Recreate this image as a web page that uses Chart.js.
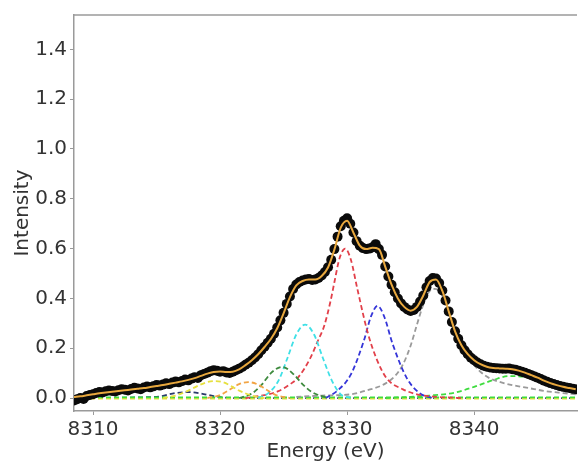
<!DOCTYPE html>
<html>
<head>
<meta charset="utf-8">
<script src="https://cdn.jsdelivr.net/npm/chart.js@4/dist/chart.umd.min.js"></script>
<style>
  html, body { margin: 0; padding: 0; background: #ffffff; }
  #wrap { width: 582px; height: 463px; }
</style>
</head>
<body>
<div id="wrap"><canvas id="c" width="582" height="463"></canvas></div>
<script>
// ---------- axis settings ----------
const xTickValues = [8310, 8320, 8330, 8340];
const yTickValues = [0.0, 0.2, 0.4, 0.6, 0.8, 1.0, 1.2, 1.4];
const xLabel = "Energy (eV)";
const yLabel = "Intensity";

// ---------- measured data (black circles) ----------
const dataEnergy = [
  8308.5, 8308.75, 8309, 8309.25, 8309.5, 8309.75, 8310, 8310.25,
  8310.5, 8310.75, 8311, 8311.25, 8311.5, 8311.75, 8312, 8312.25,
  8312.5, 8312.75, 8313, 8313.25, 8313.5, 8313.75, 8314, 8314.25,
  8314.5, 8314.75, 8315, 8315.25, 8315.5, 8315.75, 8316, 8316.25,
  8316.5, 8316.75, 8317, 8317.25, 8317.5, 8317.75, 8318, 8318.25,
  8318.5, 8318.75, 8319, 8319.25, 8319.5, 8319.75, 8320, 8320.25,
  8320.5, 8320.75, 8321, 8321.25, 8321.5, 8321.75, 8322, 8322.25,
  8322.5, 8322.75, 8323, 8323.25, 8323.5, 8323.75, 8324, 8324.25,
  8324.5, 8324.75, 8325, 8325.25, 8325.5, 8325.75, 8326, 8326.25,
  8326.5, 8326.75, 8327, 8327.25, 8327.5, 8327.75, 8328, 8328.25,
  8328.5, 8328.75, 8329, 8329.25, 8329.5, 8329.75, 8330, 8330.25,
  8330.5, 8330.75, 8331, 8331.25, 8331.5, 8331.75, 8332, 8332.25,
  8332.5, 8332.75, 8333, 8333.25, 8333.5, 8333.75, 8334, 8334.25,
  8334.5, 8334.75, 8335, 8335.25, 8335.5, 8335.75, 8336, 8336.25,
  8336.5, 8336.75, 8337, 8337.25, 8337.5, 8337.75, 8338, 8338.25,
  8338.5, 8338.75, 8339, 8339.25, 8339.5, 8339.75, 8340, 8340.25,
  8340.5, 8340.75, 8341, 8341.25, 8341.5, 8341.75, 8342, 8342.25,
  8342.5, 8342.75, 8343, 8343.25, 8343.5, 8343.75, 8344, 8344.25,
  8344.5, 8344.75, 8345, 8345.25, 8345.5, 8345.75, 8346, 8346.25,
  8346.5, 8346.75, 8347, 8347.25, 8347.5, 8347.75, 8348
];
const dataIntensity = [
  -0.010, -0.005, 0.000, -0.004, 0.008, 0.012, 0.015, 0.020,
  0.024, 0.022, 0.027, 0.030, 0.028, 0.026, 0.031, 0.035,
  0.033, 0.030, 0.036, 0.041, 0.038, 0.035, 0.042, 0.046,
  0.043, 0.047, 0.052, 0.050, 0.054, 0.059, 0.056, 0.062,
  0.066, 0.063, 0.068, 0.074, 0.071, 0.078, 0.084, 0.081,
  0.092, 0.097, 0.102, 0.108, 0.112, 0.110, 0.106, 0.108,
  0.103, 0.101, 0.106, 0.112, 0.118, 0.125, 0.134, 0.142,
  0.152, 0.163, 0.176, 0.192, 0.206, 0.222, 0.238, 0.258,
  0.283, 0.312, 0.342, 0.378, 0.408, 0.438, 0.456, 0.466,
  0.472, 0.476, 0.478, 0.474, 0.476, 0.482, 0.492, 0.506,
  0.525, 0.555, 0.598, 0.648, 0.690, 0.712, 0.722, 0.700,
  0.665, 0.630, 0.612, 0.602, 0.598, 0.600, 0.605, 0.618,
  0.598, 0.575, 0.528, 0.488, 0.455, 0.425, 0.400, 0.380,
  0.366, 0.356, 0.350, 0.354, 0.366, 0.388, 0.412, 0.445,
  0.470, 0.482, 0.480, 0.462, 0.432, 0.392, 0.348, 0.305,
  0.268, 0.238, 0.212, 0.192, 0.176, 0.162, 0.152, 0.143,
  0.136, 0.130, 0.126, 0.123, 0.121, 0.120, 0.119, 0.118,
  0.118, 0.119, 0.116, 0.114, 0.110, 0.106, 0.102, 0.097,
  0.092, 0.087, 0.082, 0.076, 0.070, 0.065, 0.060, 0.056,
  0.052, 0.048, 0.045, 0.042, 0.040, 0.037, 0.035
];

// ---------- total fit (orange line) ----------
const fitEnergy = [
  8308.5, 8309, 8309.5, 8310, 8310.5, 8311, 8311.5, 8312,
  8312.5, 8313, 8313.5, 8314, 8314.5, 8315, 8315.5, 8316,
  8316.5, 8317, 8317.5, 8318, 8318.5, 8319, 8319.5, 8320,
  8320.5, 8321, 8321.5, 8322, 8322.5, 8323, 8323.5, 8324,
  8324.5, 8325, 8325.5, 8326, 8326.5, 8327, 8327.5, 8328,
  8328.5, 8329, 8329.5, 8330, 8330.5, 8331, 8331.5, 8332,
  8332.5, 8333, 8333.5, 8334, 8334.5, 8335, 8335.5, 8336,
  8336.5, 8337, 8337.5, 8338, 8338.5, 8339, 8339.5, 8340,
  8340.5, 8341, 8341.5, 8342, 8342.5, 8343, 8343.5, 8344,
  8344.5, 8345, 8345.5, 8346, 8346.5, 8347, 8347.5, 8348
];
const fitIntensity = [
  0.004, 0.007, 0.011, 0.015, 0.019, 0.022, 0.025, 0.028,
  0.031, 0.034, 0.037, 0.040, 0.044, 0.048, 0.052, 0.057,
  0.062, 0.067, 0.073, 0.080, 0.089, 0.098, 0.105, 0.107,
  0.105, 0.106, 0.115, 0.132, 0.152, 0.176, 0.205, 0.237,
  0.280, 0.340, 0.405, 0.452, 0.470, 0.476, 0.476, 0.490,
  0.524, 0.596, 0.684, 0.712, 0.664, 0.612, 0.598, 0.603,
  0.598, 0.528, 0.455, 0.400, 0.366, 0.351, 0.366, 0.412,
  0.466, 0.476, 0.430, 0.348, 0.268, 0.212, 0.176, 0.152,
  0.136, 0.126, 0.121, 0.119, 0.118, 0.116, 0.110, 0.102,
  0.092, 0.082, 0.070, 0.060, 0.052, 0.045, 0.040, 0.035
];

// ---------- fitted components (dashed) ----------
const yellowE = [8315.5, 8316.5, 8317.5, 8318.5, 8319.0, 8319.6, 8320.2, 8320.8, 8321.5, 8322.5, 8323.5];
const yellowI = [0.000, 0.010, 0.030, 0.055, 0.064, 0.068, 0.064, 0.050, 0.030, 0.010, 0.000];

const orangeE = [8319.0, 8320.0, 8320.8, 8321.5, 8322.2, 8322.9, 8323.6, 8324.4, 8325.5];
const orangeI = [0.000, 0.012, 0.035, 0.056, 0.064, 0.056, 0.035, 0.012, 0.000];

const darkGreenE = [8321.5, 8322.5, 8323.3, 8324.0, 8324.9, 8325.8, 8326.5, 8327.3, 8328.5];
const darkGreenI = [0.000, 0.018, 0.055, 0.100, 0.125, 0.095, 0.055, 0.022, 0.000];

const cyanE = [8323.0, 8323.8, 8324.6, 8325.3, 8326.0, 8326.7, 8327.4, 8328.1, 8328.8, 8329.5, 8330.3];
const cyanI = [0.000, 0.020, 0.070, 0.160, 0.255, 0.295, 0.255, 0.160, 0.070, 0.015, 0.000];

const redE = [8322.0, 8323.5, 8324.6, 8325.5, 8326.1, 8327.1, 8327.7, 8328.2, 8328.7, 8329.0, 8329.4, 8329.85,
              8330.3, 8330.8, 8331.6, 8332.3, 8333.1, 8334.4, 8335.5, 8337.0, 8339.0];
const redI = [0.000, 0.012, 0.028, 0.055, 0.080, 0.160, 0.230, 0.290, 0.390, 0.465, 0.560, 0.600,
              0.555, 0.440, 0.267, 0.160, 0.080, 0.035, 0.015, 0.005, 0.000];

const blueE = [8328.3, 8329.2, 8330.3, 8331.3, 8331.9, 8332.4, 8332.9, 8333.6, 8334.7, 8335.7, 8336.7];
const blueI = [0.000, 0.028, 0.095, 0.227, 0.330, 0.370, 0.330, 0.215, 0.080, 0.020, 0.000];

const grayE = [8326.0, 8328.0, 8330.3, 8331.5, 8332.9, 8333.8, 8334.4, 8335.0, 8335.5, 8336.0, 8336.5, 8336.9,
               8337.4, 8338.0, 8338.5, 8339.0, 8339.6, 8340.4, 8341.2, 8342.0, 8343.0, 8344.3, 8345.6, 8347.0, 8348.0];
const grayI = [0.005, 0.010, 0.015, 0.030, 0.055, 0.090, 0.135, 0.210, 0.295, 0.375, 0.430, 0.438,
               0.420, 0.345, 0.267, 0.205, 0.160, 0.110, 0.080, 0.065, 0.052, 0.040, 0.028, 0.020, 0.015];

const greenE = [8333.0, 8335.0, 8336.5, 8338.5, 8340.0, 8340.6, 8341.5, 8342.7, 8344.0, 8345.5, 8347.0, 8348.0];
const greenI = [0.000, 0.005, 0.010, 0.022, 0.045, 0.056, 0.072, 0.088, 0.085, 0.070, 0.055, 0.048];

const navyE = [8308.5, 8315.0, 8316.5, 8317.5, 8318.5, 8319.5, 8321.0, 8348.0];
const navyI = [0.000, 0.005, 0.020, 0.024, 0.018, 0.008, 0.000, 0.000];

const baseE = [8308.5, 8348.0];
const baseGreenI = [0.003, 0.003];
const baseYellowI = [-0.002, -0.002];

function pts(xs, ys) { return xs.map((x, i) => ({ x: x, y: ys[i] })); }

function dashed(label, xs, ys, color, order) {
  return {
    label: label, data: pts(xs, ys), showLine: true, borderColor: color,
    borderWidth: 1.8, borderDash: [5, 3], pointRadius: 0, fill: false,
    cubicInterpolationMode: 'monotone', order: order
  };
}

const topBorder = {
  id: 'topBorder',
  beforeDraw(chart) {
    const ctx = chart.ctx;
    ctx.save();
    ctx.fillStyle = '#ffffff';
    ctx.fillRect(0, 0, chart.width, chart.height);
    ctx.restore();
  },
  afterDraw(chart) {
    const a = chart.chartArea, ctx = chart.ctx;
    ctx.save();
    ctx.strokeStyle = '#9a9a9a';
    ctx.lineWidth = 1.5;
    ctx.beginPath();
    ctx.moveTo(a.left, a.top);
    ctx.lineTo(a.right, a.top);
    ctx.stroke();
    ctx.restore();
  }
};

const font = { family: 'DejaVu Sans', size: 20 };
const titleFont = { family: 'DejaVu Sans', size: 20, lineHeight: 1.0 };

new Chart(document.getElementById('c'), {
  type: 'scatter',
  data: {
    datasets: [
      {
        label: 'fit', data: pts(fitEnergy, fitIntensity), showLine: true,
        borderColor: '#e8a83e', borderWidth: 2, pointRadius: 0,
        cubicInterpolationMode: 'monotone', order: 0
      },
      {
        label: 'data', data: pts(dataEnergy, dataIntensity), showLine: false,
        pointRadius: 5, pointBackgroundColor: '#0b0b0b', pointBorderWidth: 0,
        pointBorderColor: 'rgba(0,0,0,0)', order: 1
      },
      dashed('yellow', yellowE, yellowI, '#e6e040', 2),
      dashed('orange', orangeE, orangeI, '#f2a444', 2),
      dashed('darkgreen', darkGreenE, darkGreenI, '#3d8a3d', 2),
      dashed('cyan', cyanE, cyanI, '#3fe0e6', 2),
      dashed('red', redE, redI, '#e2404a', 2),
      dashed('blue', blueE, blueI, '#3535d8', 2),
      dashed('gray', grayE, grayI, '#9a9a9a', 2),
      dashed('green', greenE, greenI, '#3fdc3f', 2),
      dashed('baseGreen', baseE, baseGreenI, '#3fdc3f', 3),
      dashed('baseYellow', baseE, baseYellowI, '#e6e040', 3),
      dashed('navy', navyE, navyI, '#2a3a6a', 3)
    ]
  },
  options: {
    responsive: false,
    animation: false,
    devicePixelRatio: 1,
    layout: { padding: { top: 12, right: 0, left: 0, bottom: 0 } },
    plugins: { legend: { display: false }, tooltip: { enabled: false } },
    scales: {
      x: {
        type: 'linear', min: 8308.5, max: 8348.1,
        afterFit(scale) { scale.height = 52; },
        afterBuildTicks(scale) { scale.ticks = xTickValues.map(v => ({ value: v })); },
        grid: { display: true, drawOnChartArea: false, drawTicks: true, tickLength: 4, color: '#9a9a9a', lineWidth: 1 },
        border: { display: true, color: '#9a9a9a', width: 1.5 },
        ticks: { font: font, color: '#333333', padding: 3, maxRotation: 0, autoSkip: false,
                 callback: v => String(v) },
        title: { display: true, text: xLabel, font: titleFont, color: '#333333', padding: { top: 0, bottom: 1 } }
      },
      y: {
        type: 'linear', min: -0.052, max: 1.538,
        afterFit(scale) { scale.width = 74; },
        afterBuildTicks(scale) { scale.ticks = yTickValues.map(v => ({ value: v })); },
        grid: { display: true, drawOnChartArea: false, drawTicks: true, tickLength: 4, color: '#9a9a9a', lineWidth: 1 },
        border: { display: true, color: '#9a9a9a', width: 1.5 },
        ticks: { font: font, color: '#333333', padding: 3, autoSkip: false,
                 callback: v => Number(v).toFixed(1) },
        title: { display: true, text: yLabel, font: titleFont, color: '#333333', padding: { top: 13, bottom: 0 } }
      }
    }
  },
  plugins: [topBorder]
});
</script>
</body>
</html>
